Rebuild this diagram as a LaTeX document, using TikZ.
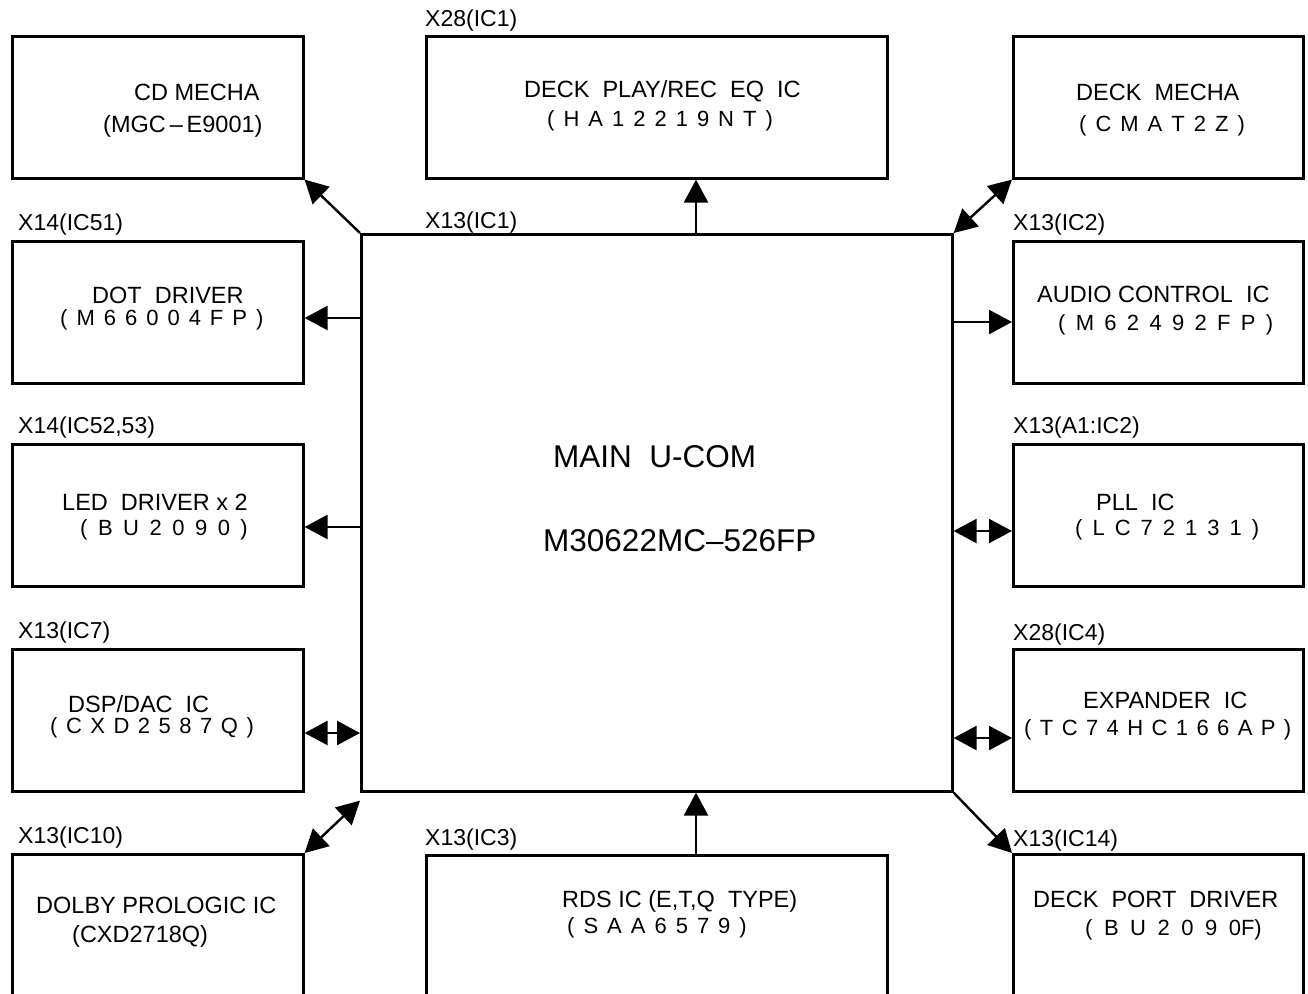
\documentclass[tikz,border=0pt]{standalone}
\usepackage{fontspec}
\setmainfont{Liberation Sans}
\usetikzlibrary{arrows.meta}
\newcommand\myspfont{\fontsize{22}{24}\selectfont}
\begin{document}
\begin{tikzpicture}[x=1pt,y=-1pt,
 box/.style={draw, line width=2.6pt, rectangle, inner sep=0pt, anchor=north west},
 txt/.style={inner sep=0pt, anchor=base west, font=\fontsize{23.5}{26}\selectfont},
 spc/.style={inner sep=0pt, anchor=base west, font={\myspfont\spaceskip=#1\relax}},
 spc/.default=9pt,
 lbl/.style={inner sep=0pt, anchor=base west, font=\fontsize{23}{26}\selectfont},
 big/.style={inner sep=0pt, anchor=base west, font=\fontsize{31.5}{34}\selectfont},
 tip/.tip={Triangle[length=23pt,width=24pt]},
 arr/.style={line width=2.4pt, -tip},
 darr/.style={line width=2.4pt, tip-tip}]
\useasboundingbox (0,0) rectangle (1308,993);
\clip (0,0) rectangle (1308,993);
% boxes
\node[box, minimum width=291pt, minimum height=142pt] (cd) at (11,35) {};
\node[box, minimum width=461pt, minimum height=142pt] (deckeq) at (425,35) {};
\node[box, minimum width=290pt, minimum height=142pt] (deckm) at (1012,35) {};
\node[box, minimum width=591pt, minimum height=557pt] (main) at (360,233) {};
\node[box, minimum width=291pt, minimum height=142pt] (dot) at (11,240) {};
\node[box, minimum width=290pt, minimum height=142pt] (audio) at (1012,240) {};
\node[box, minimum width=291pt, minimum height=142pt] (led) at (11,443) {};
\node[box, minimum width=290pt, minimum height=142pt] (pll) at (1012,443) {};
\node[box, minimum width=291pt, minimum height=142pt] (dsp) at (11,648) {};
\node[box, minimum width=290pt, minimum height=142pt] (exp) at (1012,648) {};
\node[box, minimum width=291pt, minimum height=200pt] (dolby) at (11,853) {};
\node[box, minimum width=461pt, minimum height=200pt] (rds) at (425,854) {};
\node[box, minimum width=290pt, minimum height=200pt] (port) at (1012,853) {};
% labels
\node[lbl] (l1) at (425,27) {X28(IC1)};
\node[lbl] (l2) at (425,228) {X13(IC1)};
\node[lbl] (l3) at (18,230) {X14(IC51)};
\node[lbl] (l4) at (1013,230) {X13(IC2)};
\node[lbl] (l5) at (18,433) {X14(IC52,53)};
\node[lbl] (l6) at (1013,433) {X13(A1:IC2)};
\node[lbl] (l7) at (18,638) {X13(IC7)};
\node[lbl] (l8) at (1013,640) {X28(IC4)};
\node[lbl] (l9) at (18,843) {X13(IC10)};
\node[lbl] (l10) at (425,845) {X13(IC3)};
\node[lbl] (l11) at (1013,846) {X13(IC14)};
% texts
\node[txt] (t1a) at (134,100) {CD MECHA};
\node[txt] (t1b) at (103,132) {(MGC\,–\,E9001)};
\node[txt] (t2a) at (524,97) {DECK\ \ PLAY/REC\ \ EQ\ \ IC};
\node[spc] (t2b) at (547,126) {( H A 1 2 2 1 9 N T )};
\node[txt] (t3a) at (1076,100) {DECK\ \ MECHA};
\node[spc] (t3b) at (1079,131) {( C M A T 2 Z )};
\node[txt] (t4a) at (92,303) {DOT\ \ DRIVER};
\node[spc] (t4b) at (60,325) {( M 6 6 0 0 4 F P )};
\node[txt] (t5a) at (1037,302) {AUDIO CONTROL\ \ IC};
\node[spc=10.3pt] (t5b) at (1058,330) {( M 6 2 4 9 2 F P )};
\node[txt] (t6a) at (62,510) {LED\ \ DRIVER x 2};
\node[spc=10.5pt] (t6b) at (80,535) {( B U 2 0 9 0 )};
\node[txt] (t7a) at (1096,510) {PLL\ \ IC};
\node[spc=10pt] (t7b) at (1075,535) {( L C 7 2 1 3 1 )};
\node[txt] (t8a) at (68,712) {DSP/DAC\ \ IC};
\node[spc=8.5pt] (t8b) at (50,733) {( C X D 2 5 8 7 Q )};
\node[txt] (t9a) at (1083,708) {EXPANDER\ \ IC};
\node[spc=8.4pt] (t9b) at (1024,735) {( T C 7 4 H C 1 6 6 A P )};
\node[txt] (t10a) at (36,913) {DOLBY PROLOGIC IC};
\node[txt] (t10b) at (72,942) {(CXD2718Q)};
\node[txt] (t11a) at (562,907) {RDS\ IC\ (E,T,Q\ \ TYPE)};
\node[spc] (t11b) at (567,933) {( S A A 6 5 7 9 )};
\node[txt] (t12a) at (1033,907) {DECK\ \ PORT\ \ DRIVER};
\node[spc=11.5pt] (t12b) at (1085,935) {( B U 2 0 9 0F)};
\node[big] (m1) at (553,467) {MAIN\ \ U-COM};
\node[big] (m2) at (543,551) {M30622MC–526FP};
% connectors
\draw[arr] (main.north west) -- (cd.south east);
\draw[arr] (696,0 |- main.north) -- (696,0 |- deckeq.south);
\draw[darr] (main.north east) -- (deckm.south west);
\draw[arr] (main.west |- 0,318) -- (dot.east |- 0,318);
\draw[arr] (main.east |- 0,322) -- (audio.west |- 0,322);
\draw[arr] (main.west |- 0,527) -- (led.east |- 0,527);
\draw[darr] (main.east |- 0,531) -- (pll.west |- 0,531);
\draw[darr] (main.west |- 0,733) -- (dsp.east |- 0,733);
\draw[darr] (main.east |- 0,738) -- (exp.west |- 0,738);
\coordinate (msw) at ([yshift=-8pt]main.south west);
\draw[darr] (dolby.north east) -- (msw);
\draw[arr] (696,0 |- rds.north) -- (696,0 |- main.south);
\draw[arr] (main.south east) -- (port.north west);
\end{tikzpicture}
\end{document}
